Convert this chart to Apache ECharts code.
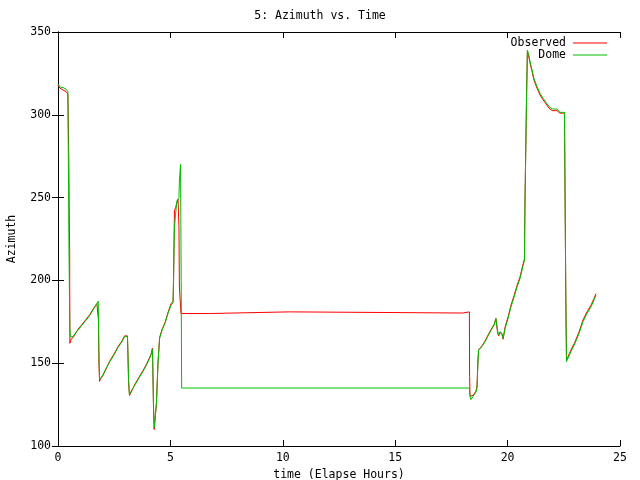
<!DOCTYPE html>
<html>
<head>
<meta charset="utf-8">
<script src="https://cdn.jsdelivr.net/npm/echarts@6/dist/echarts.min.js"></script>
<style>html,body{margin:0;padding:0;background:#fff;}#c{width:640px;height:480px;}</style>
</head>
<body>
<div id="c"></div>
<script>
const titleText = '5: Azimuth vs. Time';
const xName = 'time (Elapse Hours)';
const yName = 'Azimuth';
const seriesNames = ['Observed', 'Dome'];
const xTicks = [0, 5, 10, 15, 20, 25];
const yTicks = [100, 150, 200, 250, 300, 350];

const obsTime = [0,0.09,0.22,0.36,0.44,0.47,0.47,0.48,0.50,0.52,0.52,0.53,0.58,0.67,0.76,0.89,1.07,1.25,1.42,1.60,1.73,1.79,1.80,1.82,1.85,1.89,2.0,2.14,2.31,2.49,2.67,2.85,2.96,3.09,3.11,3.14,3.18,3.29,3.43,3.60,3.78,3.96,4.14,4.20,4.22,4.25,4.28,4.36,4.38,4.45,4.52,4.63,4.76,4.89,5.03,5.12,5.14,5.18,5.23,5.29,5.34,5.38,5.40,5.46,5.47,5.55,6.75,6.75,10.3,10.3,18.0,18.0,18.3,18.31,18.33,18.37,18.46,18.59,18.64,18.68,18.71,18.86,19.0,19.13,19.27,19.40,19.48,19.53,19.55,19.60,19.66,19.75,19.80,19.86,19.89,20.02,20.15,20.29,20.42,20.55,20.69,20.75,20.77,20.84,20.88,20.93,21.0,21.09,21.17,21.31,21.44,21.58,21.71,21.84,21.98,22.2,22.33,22.53,22.55,22.59,22.62,22.69,22.82,23.0,23.18,23.35,23.53,23.71,23.84,23.93];
const obsAz = [318,316,315,314,312.5,312,281,274,240,217,200,162,164.5,165.5,167.5,170.5,173.5,176.5,179.5,183.5,186,187,176,150,139,140.5,142.5,146.5,151.5,155.5,160,163.5,166.5,166.5,156,138,130.5,133.5,137.5,141.5,145.5,150,155.5,159,145,122,110,111,126,151,165.5,170.5,174.5,180.5,186,187.5,200,242,244,247,249,232,196,195,180,180,180,181,181,180.3,180.3,181,181,142,130,129.5,130.5,133,136,152,158,160.5,163.5,167,170.5,173.5,177,176,169,166.5,168.5,167.5,164.5,165.5,172,178,185,191,197,202,210,213,245,308,338,336,331,326,321,316,312,309,306.5,304,302.5,302.5,301,301,262,190,152,154,158,163,169,176,181,185,189,192];

const domeTime = [0,0.13,0.22,0.36,0.44,0.48,0.49,0.52,0.525,0.55,0.58,0.67,0.76,0.89,1.07,1.25,1.42,1.60,1.73,1.79,1.80,1.82,1.85,1.89,2.0,2.14,2.31,2.49,2.67,2.85,2.96,3.09,3.11,3.14,3.18,3.29,3.43,3.60,3.78,3.96,4.14,4.20,4.22,4.25,4.28,4.36,4.38,4.45,4.52,4.63,4.76,4.89,5.03,5.12,5.14,5.18,5.23,5.29,5.38,5.40,5.45,5.48,5.50,18.3,18.33,18.37,18.46,18.59,18.64,18.68,18.71,18.86,19.0,19.13,19.27,19.40,19.48,19.53,19.55,19.60,19.66,19.75,19.80,19.86,19.89,20.02,20.15,20.29,20.42,20.55,20.69,20.75,20.77,20.84,20.88,20.93,21.0,21.09,21.17,21.31,21.44,21.58,21.71,21.84,21.98,22.2,22.33,22.53,22.55,22.59,22.62,22.69,22.82,23.0,23.18,23.35,23.53,23.71,23.84,23.93];
const domeAz = [318.5,316.5,316.5,315.5,314,313,217,217,172,166,165,166,168,170,173,176,179,183,186,187.5,178,157,140,141,143,147,151,155,159.5,163,166,166,157,140,131,134,137,141,145,149.5,155,158.5,147,123,111,112,126,150,165,170,174,180,185,186.5,202,232,240,248,250,260,270,200,135,135,130,128,130,132.5,135,150,158,160,163,166.5,170,173,177,177,170,167,169,168,165,166,171,177,184,190,196,201,209,212,244,307,339,337,332,327,322,317,313,310,307.5,305,303.5,303.5,301.5,301.5,264,189,151,153,157,162,168,175,180,184,188,191];

const obsData = obsTime.map((t, i) => [t, obsAz[i]]);
const domeData = domeTime.map((t, i) => [t, domeAz[i]]);

const FONT = 'DejaVu Sans Mono';
const chart = echarts.init(document.getElementById('c'), null, {renderer: 'canvas'});
const axisCommonX = {
  type: 'value', min: xTicks[0], max: xTicks[xTicks.length - 1], interval: xTicks[1] - xTicks[0],
  axisLine: {show: true, lineStyle: {color: '#000', width: 1}},
  axisTick: {show: true, inside: true, length: 6, lineStyle: {color: '#000'}},
  splitLine: {show: false}
};
const axisCommonY = {
  type: 'value', min: yTicks[0], max: yTicks[yTicks.length - 1], interval: yTicks[1] - yTicks[0],
  axisLine: {show: true, lineStyle: {color: '#000', width: 1}},
  axisTick: {show: true, inside: true, length: 6, lineStyle: {color: '#000'}},
  splitLine: {show: false}
};
const LINE_ICON = 'path://M0,0 L34,0 L34,1 L0,1 Z';
chart.setOption({
  animation: false,
  backgroundColor: '#fff',
  textStyle: {fontFamily: FONT},
  title: {
    text: titleText, left: 'center', top: 5,
    textStyle: {fontFamily: FONT, fontSize: 11.5, fontWeight: 'normal', color: '#000'}
  },
  legend: {
    data: seriesNames.map(n => ({name: n, icon: LINE_ICON})),
    orient: 'vertical', align: 'right', right: 28, top: 32,
    itemWidth: 34, itemHeight: 1, itemGap: 0,
    textStyle: {fontFamily: FONT, fontSize: 11.5, color: '#000', lineHeight: 11, padding: [0, 2, 0, 0]}
  },
  grid: {left: 58, right: 20, top: 32, bottom: 34, containLabel: false, outerBoundsMode: 'none'},
  xAxis: [
    Object.assign({}, axisCommonX, {
      position: 'bottom',
      name: xName, nameLocation: 'middle', nameGap: 17,
      nameTextStyle: {fontFamily: FONT, fontSize: 11.5, color: '#000'},
      axisLabel: {show: true, margin: 6, color: '#000', fontFamily: FONT, fontSize: 11.5}
    }),
    Object.assign({}, axisCommonX, {position: 'top', axisLabel: {show: false}})
  ],
  yAxis: [
    Object.assign({}, axisCommonY, {
      position: 'left',
      name: yName, nameLocation: 'middle', nameGap: 40, nameRotate: 90,
      nameTextStyle: {fontFamily: FONT, fontSize: 11.5, color: '#000'},
      axisLabel: {show: true, margin: 7, color: '#000', fontFamily: FONT, fontSize: 11.5}
    }),
    Object.assign({}, axisCommonY, {position: 'right', axisLabel: {show: false}})
  ],
  series: [
    {
      name: seriesNames[0], type: 'line', data: obsData, symbol: 'none', showSymbol: false,
      lineStyle: {color: '#ff0000', width: 1}, itemStyle: {color: '#ff0000'}, z: 2
    },
    {
      name: seriesNames[1], type: 'line', data: domeData, symbol: 'none', showSymbol: false,
      lineStyle: {color: '#00c000', width: 1}, itemStyle: {color: '#00c000'}, z: 3
    }
  ]
});
</script>
</body>
</html>
